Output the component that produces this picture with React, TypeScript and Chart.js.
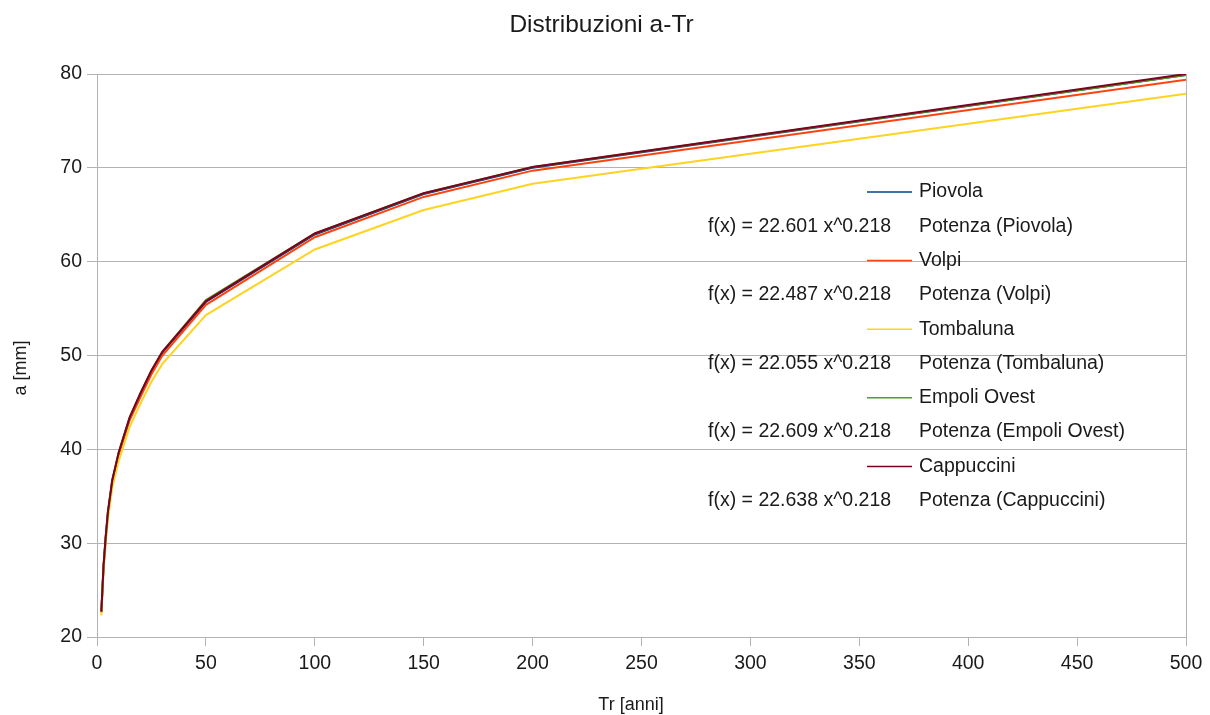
import React, { useEffect, useRef } from "react";
import { Chart, registerables } from "chart.js";

Chart.register(...registerables);

// ---- Data ----
const returnPeriods = [2, 3, 4, 5, 7, 10, 15, 20, 25, 30, 50, 100, 150, 200, 500];
const piovola = [22.7, 27.5, 30.6, 33.2, 36.6, 39.6, 43.3, 45.9, 48.3, 50.3, 55.7, 62.9, 67.2, 70.0, 79.9];
const volpi = [22.6, 27.3, 30.4, 33.0, 36.4, 39.4, 43.1, 45.6, 48.0, 50.0, 55.4, 62.6, 66.9, 69.7, 79.4];
const tombaluna = [22.3, 27.0, 30.0, 32.5, 35.9, 38.8, 42.4, 44.9, 47.2, 49.1, 54.3, 61.3, 65.5, 68.3, 77.9];
const empoliOvest = [22.7, 27.6, 30.7, 33.3, 36.7, 39.7, 43.4, 46.0, 48.4, 50.4, 55.9, 63.0, 67.3, 70.1, 79.9];
const cappuccini = [22.7, 27.6, 30.7, 33.3, 36.7, 39.7, 43.4, 46.0, 48.4, 50.4, 55.8, 63.0, 67.3, 70.1, 80.0];

const seriesNames = ["Piovola", "Volpi", "Tombaluna", "Empoli Ovest", "Cappuccini"];
const seriesValues = [piovola, volpi, tombaluna, empoliOvest, cappuccini];
const seriesColors = ["#004586", "#ff420e", "#ffd320", "#579d1c", "#7e0021"];
const fitCoefficients = [22.601, 22.487, 22.055, 22.609, 22.638];
const fitExponents = [0.218, 0.218, 0.218, 0.218, 0.218];

const xTicks = [0, 50, 100, 150, 200, 250, 300, 350, 400, 450, 500];
const yTicks = [20, 30, 40, 50, 60, 70, 80];

const chartTitle = "Distribuzioni a-Tr";
const xAxisTitle = "Tr [anni]";
const yAxisTitle = "a [mm]";
const trendPrefix = "Potenza";

const FONT = "'Liberation Sans', Arial, sans-serif";
const TEXT_COLOR = "#1a1a1a";
const GRID_COLOR = "#b3b3b3";

const W = 1210;
const H = 715;

const overlayPlugin = {
  id: "overlayText",
  afterDraw(chart: any) {
    const ctx = chart.ctx as CanvasRenderingContext2D;
    ctx.save();
    ctx.fillStyle = TEXT_COLOR;
    ctx.textBaseline = "middle";

    // Title
    ctx.font = `24.5px ${FONT}`;
    ctx.textAlign = "center";
    ctx.fillText(chartTitle, 601.5, 25);

    // X axis title
    ctx.font = `18px ${FONT}`;
    ctx.fillText(xAxisTitle, 631, 705);

    // Y axis title
    ctx.save();
    ctx.translate(21, 368);
    ctx.rotate(-Math.PI / 2);
    ctx.fillText(yAxisTitle, 0, 0);
    ctx.restore();

    // Legend with trend-line equations
    const rowStart = 192;
    const rowStep = 34.3;
    const symX0 = 867;
    const symX1 = 912;
    const textX = 919;
    const eqX = 708;
    ctx.font = `19.5px ${FONT}`;
    ctx.textAlign = "left";
    seriesNames.forEach((name, i) => {
      const y1 = rowStart + rowStep * (2 * i);
      const y2 = rowStart + rowStep * (2 * i + 1);
      ctx.strokeStyle = seriesColors[i];
      ctx.lineWidth = 1.5;
      ctx.beginPath();
      ctx.moveTo(symX0, y1);
      ctx.lineTo(symX1, y1);
      ctx.stroke();
      ctx.fillStyle = TEXT_COLOR;
      ctx.fillText(name, textX, y1);
      ctx.fillText(`${trendPrefix} (${name})`, textX, y2);
      ctx.fillText(
        `f(x) = ${fitCoefficients[i].toFixed(3)} x^${fitExponents[i].toFixed(3)}`,
        eqX,
        y2
      );
    });
    ctx.restore();
  },
};

export default function App() {
  const canvasRef = useRef<HTMLCanvasElement | null>(null);

  useEffect(() => {
    if (!canvasRef.current) return;
    const n = seriesNames.length;
    const datasets = seriesNames.map((name, i) => ({
      label: name,
      data: returnPeriods.map((x, k) => ({ x, y: seriesValues[i][k] })),
      borderColor: seriesColors[i],
      backgroundColor: seriesColors[i],
      borderWidth: 2,
      pointRadius: 0,
      pointHoverRadius: 0,
      fill: false,
      tension: 0,
      order: n - i,
    }));

    const chart = new Chart(canvasRef.current, {
      type: "line",
      data: { datasets },
      plugins: [overlayPlugin],
      options: {
        animation: false,
        responsive: false,
        events: [],
        layout: { padding: { top: 74, right: 24, left: 0, bottom: 0 } },
        plugins: {
          legend: { display: false },
          title: { display: false },
          tooltip: { enabled: false },
        },
        scales: {
          x: {
            type: "linear",
            min: 0,
            max: 500,
            afterBuildTicks: (scale: any) => {
              scale.ticks = xTicks.map((v) => ({ value: v }));
            },
            afterFit: (scale: any) => {
              scale.height = 78;
            },
            ticks: {
              color: TEXT_COLOR,
              font: { size: 19.5, family: FONT },
              padding: 6,
              maxRotation: 0,
              autoSkip: false,
            },
            grid: {
              color: (c: any) => (c.tick && c.tick.value === 500 ? GRID_COLOR : "rgba(0,0,0,0)"),
              tickColor: GRID_COLOR,
              tickLength: 9,
              lineWidth: 1,
            },
            border: { display: true, color: GRID_COLOR, width: 1 },
          },
          y: {
            type: "linear",
            min: 20,
            max: 80,
            afterBuildTicks: (scale: any) => {
              scale.ticks = yTicks.map((v) => ({ value: v }));
            },
            afterFit: (scale: any) => {
              scale.width = 97;
            },
            ticks: {
              color: TEXT_COLOR,
              font: { size: 19.5, family: FONT },
              padding: 5,
              autoSkip: false,
            },
            grid: {
              color: GRID_COLOR,
              tickColor: GRID_COLOR,
              tickLength: 10,
              lineWidth: 1,
            },
            border: { display: true, color: GRID_COLOR, width: 1 },
          },
        },
      },
    });
    return () => chart.destroy();
  }, []);

  return (
    <div style={{ position: "absolute", left: 0, top: 0, width: W, height: H, background: "#fff" }}>
      <canvas ref={canvasRef} width={W} height={H} style={{ display: "block" }} />
    </div>
  );
}
